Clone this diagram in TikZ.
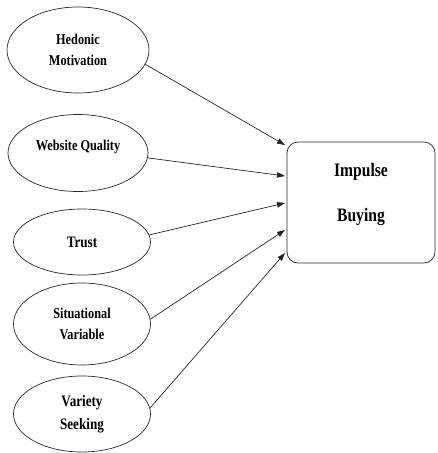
\documentclass[tikz,border=0pt]{standalone}
\usepackage{fontspec}
\setmainfont{Liberation Serif}[FakeStretch=0.82]
\usetikzlibrary{shapes.geometric,arrows.meta}
\begin{document}
\begin{tikzpicture}[x=1pt,y=-1pt,
  ell/.style={ellipse,draw=black!85,line width=0.7pt,inner sep=0pt,align=center,
    font=\bfseries\fontsize{15}{21}\selectfont},
  bigbox/.style={draw=black!85,line width=0.7pt,rounded corners=11pt,inner sep=0pt,
    align=center,minimum width=148pt,minimum height=121pt,
    font=\bfseries\fontsize{19}{45}\selectfont},
  conn/.style={draw=black!85,line width=0.7pt,-{Triangle[length=8pt,width=5.5pt]}}]
\useasboundingbox (0,0) rectangle (437,453);
\node[ell,minimum width=142pt,minimum height=86pt] (e1) at (78,50) {Hedonic\\Motivation};
\node[ell,minimum width=140pt,minimum height=77pt] (e2) at (78,153) {\raisebox{3pt}[0pt][0pt]{Website Quality}};
\node[ell,minimum width=137pt,minimum height=66pt,font=\bfseries\fontsize{16}{20}\selectfont] (e3) at (82,242) {Trust};
\node[ell,minimum width=137pt,minimum height=82pt] (e4) at (82,324) {Situational\\Variable};
\node[ell,minimum width=137pt,minimum height=76pt,font=\bfseries\fontsize{16}{23}\selectfont] (e5) at (82,414) {Variety\\Seeking};
\node[bigbox] (b) at (361,202.5) {\raisebox{8pt}[0pt][0pt]{\begin{tabular}{@{}c@{}}Impulse\\Buying\end{tabular}}};
\coordinate (t1) at (285,145);
\coordinate (t2) at (285,176);
\coordinate (t3) at (285,203);
\coordinate (t4) at (285,230);
\coordinate (t5) at (285,253);
\draw[conn] (e1.-12) -- (t1);
\draw[conn] (e2.-4) -- (t2);
\draw[conn] (e3.6) -- (t3);
\draw[conn] (e4.4) -- (t4);
\draw[conn] (e5.5) -- (t5);
\end{tikzpicture}
\end{document}
